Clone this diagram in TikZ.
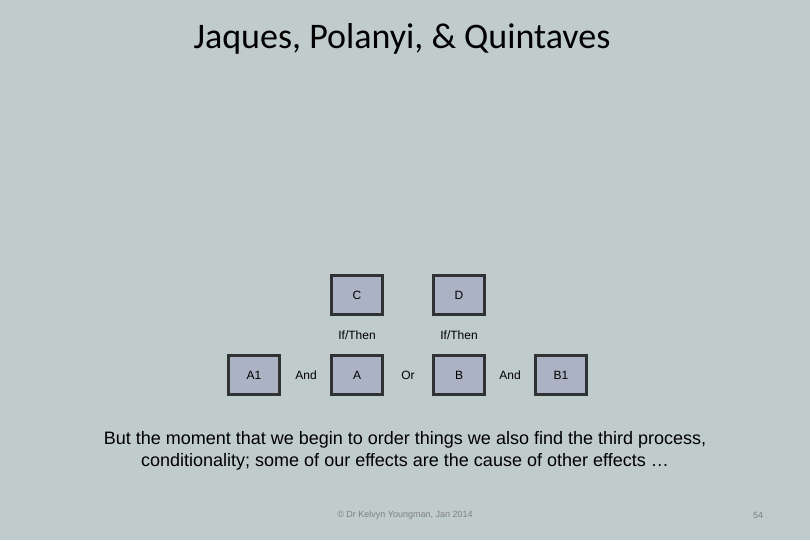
\documentclass[tikz,border=0pt]{standalone}
\usepackage{fontspec}
\setmainfont{Liberation Sans}
\newfontfamily\titlefont{Carlito}
\usetikzlibrary{positioning}
\definecolor{slidebg}{HTML}{C0CBCB}
\definecolor{boxfill}{HTML}{AAB2C4}
\definecolor{boxline}{HTML}{303333}
\tikzset{every picture/.style={x=1pt,y=-1pt}}
\tikzset{box/.style={draw=boxline,fill=boxfill,line width=3pt,minimum width=51pt,minimum height=39pt,inner sep=0pt,font=\fontsize{12}{14}\selectfont}}
\tikzset{lbl/.style={inner sep=0pt,font=\fontsize{12}{14}\selectfont}}

\begin{document}
\begin{tikzpicture}
    \fill [slidebg] (0,0) rectangle (810,540);
    \useasboundingbox (0,0) rectangle (810,540);
    \node (title) at (402,39) [font=\titlefont\fontsize{36}{40}\selectfont] {Jaques, Polanyi, \& Quintaves};
    % top row
    \node (c) at (357,295) [box] {C};
    \node (d) at (459,295) [box] {D};
    \node (ifc) at (357,335) [lbl] {If/Then};
    \node (ifd) at (459,335) [lbl] {If/Then};
    % bottom row
    \node (a1) at (254,375) [box] {A1};
    \node (and1) at (306,375) [lbl] {And};
    \node (a) at (357,375) [box] {A};
    \node (or) at (408,375) [lbl] {Or};
    \node (b) at (459,375) [box] {B};
    \node (and2) at (510,375) [lbl] {And};
    \node (b1) at (561,375) [box] {B1};
    \node (text) at (405,451) [align=center,font=\fontsize{18}{22}\selectfont]
        {But the moment that we begin to order things we also find the third process,\\
         conditionality; some of our effects are the cause of other effects \dots};
    \node (foot) at (405,515) [text=gray,font=\fontsize{9}{11}\selectfont] {\copyright\ Dr Kelvyn Youngman, Jan 2014};
    \node (page) at (758,515) [text=gray,font=\fontsize{9}{11}\selectfont] {54};
\end{tikzpicture}
\end{document}
